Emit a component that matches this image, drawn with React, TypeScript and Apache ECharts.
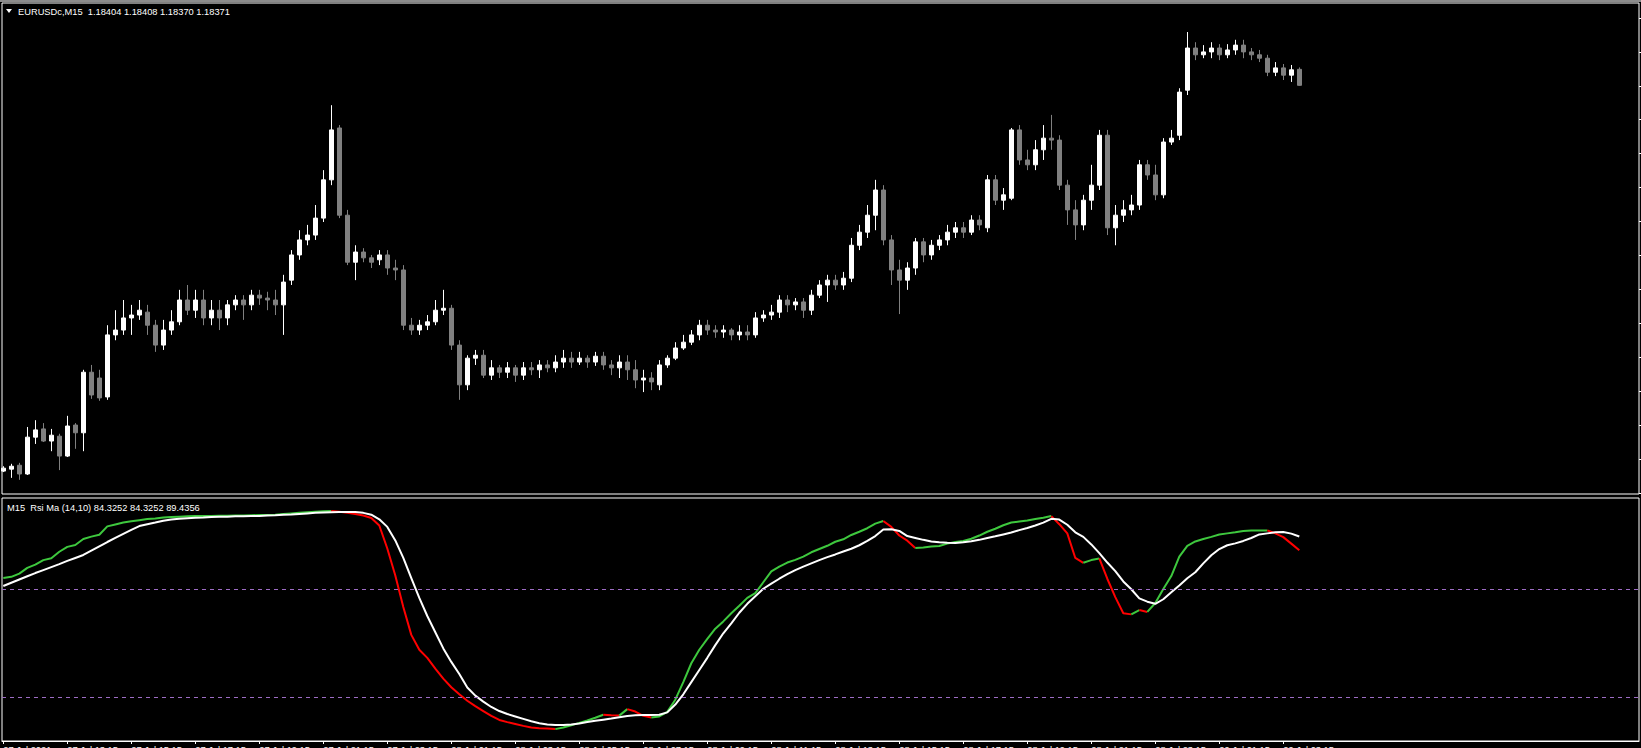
import React, { useEffect, useRef } from "react";
import * as echarts from "echarts";

// EURUSDc M15 candles
const opens = [
1.17575,1.17579,1.17587,1.17569,1.17645,1.17662,1.17637,1.17647,1.17606,1.17670,
1.17654,1.17779,1.17767,1.17728,1.17856,1.17866,1.17891,1.17897,1.17903,1.17876,
1.17835,1.17866,1.17883,1.17928,1.17907,1.17928,1.17891,1.17907,1.17891,1.17918,
1.17928,1.17918,1.17938,1.17932,1.17928,1.17918,1.17969,1.18021,1.18052,1.18062,
1.18097,1.18176,1.18283,1.18103,1.18006,1.18027,1.18015,1.18011,1.18021,1.17994,
1.17990,1.17876,1.17866,1.17876,1.17883,1.17907,1.17911,1.17835,1.17753,1.17808,
1.17814,1.17773,1.17788,1.17779,1.17788,1.17773,1.17788,1.17784,1.17794,1.17788,
1.17800,1.17808,1.17800,1.17808,1.17800,1.17812,1.17794,1.17788,1.17800,1.17784,
1.17763,1.17767,1.17753,1.17794,1.17808,1.17829,1.17841,1.17856,1.17876,1.17866,
1.17862,1.17866,1.17856,1.17862,1.17856,1.17891,1.17897,1.17903,1.17928,1.17918,
1.17924,1.17907,1.17938,1.17959,1.17969,1.17959,1.17973,1.18041,1.18068,1.18103,
1.18155,1.18052,1.17990,1.17969,1.17994,1.18048,1.18021,1.18041,1.18052,1.18068,
1.18077,1.18068,1.18093,1.18077,1.18176,1.18134,1.18138,1.18279,1.18217,1.18207,
1.18238,1.18262,1.18258,1.18165,1.18114,1.18083,1.18134,1.18165,1.18268,1.18077,
1.18103,1.18114,1.18124,1.18207,1.18186,1.18145,1.18254,1.18268,1.18361,1.18448,
1.18434,1.18440,1.18448,1.18434,1.18444,1.18454,1.18440,1.18434,1.18427,1.18398,
1.18407,1.18392,1.18404];
const highs = [
1.17585,1.17590,1.17592,1.17666,1.17680,1.17674,1.17662,1.17652,1.17689,1.17674,
1.17784,1.17794,1.17784,1.17876,1.17907,1.17928,1.17918,1.17928,1.17918,1.17887,
1.17887,1.17907,1.17949,1.17959,1.17949,1.17949,1.17928,1.17928,1.17928,1.17938,
1.17938,1.17949,1.17949,1.17945,1.17949,1.17980,1.18031,1.18072,1.18083,1.18124,
1.18196,1.18330,1.18289,1.18114,1.18041,1.18035,1.18021,1.18031,1.18031,1.18011,
1.18000,1.17891,1.17887,1.17897,1.17928,1.17949,1.17918,1.17845,1.17814,1.17825,
1.17825,1.17804,1.17794,1.17800,1.17794,1.17800,1.17800,1.17804,1.17804,1.17814,
1.17825,1.17821,1.17821,1.17814,1.17821,1.17821,1.17804,1.17814,1.17814,1.17804,
1.17784,1.17779,1.17804,1.17814,1.17841,1.17856,1.17866,1.17887,1.17887,1.17876,
1.17876,1.17870,1.17876,1.17876,1.17903,1.17907,1.17918,1.17938,1.17938,1.17932,
1.17932,1.17949,1.17969,1.17980,1.17980,1.17986,1.18056,1.18083,1.18124,1.18176,
1.18165,1.18062,1.18011,1.18006,1.18056,1.18056,1.18052,1.18062,1.18083,1.18089,
1.18089,1.18103,1.18103,1.18186,1.18186,1.18159,1.18283,1.18289,1.18238,1.18258,
1.18289,1.18310,1.18268,1.18176,1.18134,1.18145,1.18207,1.18279,1.18279,1.18124,
1.18134,1.18145,1.18217,1.18217,1.18207,1.18262,1.18279,1.18365,1.18481,1.18460,
1.18454,1.18460,1.18456,1.18456,1.18465,1.18465,1.18448,1.18444,1.18434,1.18419,
1.18415,1.18413,1.18408];
const lows = [
1.17573,1.17561,1.17557,1.17567,1.17631,1.17635,1.17616,1.17577,1.17604,1.17621,
1.17616,1.17724,1.17720,1.17722,1.17845,1.17856,1.17856,1.17887,1.17856,1.17821,
1.17825,1.17856,1.17876,1.17897,1.17891,1.17876,1.17876,1.17866,1.17876,1.17907,
1.17887,1.17907,1.17918,1.17907,1.17897,1.17856,1.17959,1.18011,1.18041,1.18052,
1.18089,1.18165,1.18097,1.18000,1.17969,1.18006,1.17994,1.18000,1.17980,1.17969,
1.17866,1.17856,1.17856,1.17866,1.17876,1.17897,1.17825,1.17722,1.17742,1.17794,
1.17767,1.17763,1.17767,1.17767,1.17759,1.17763,1.17773,1.17767,1.17779,1.17779,
1.17788,1.17788,1.17794,1.17788,1.17792,1.17784,1.17773,1.17767,1.17763,1.17746,
1.17738,1.17742,1.17742,1.17788,1.17804,1.17825,1.17835,1.17845,1.17856,1.17850,
1.17850,1.17845,1.17845,1.17845,1.17850,1.17883,1.17887,1.17891,1.17903,1.17907,
1.17891,1.17897,1.17932,1.17924,1.17949,1.17949,1.17965,1.18031,1.18056,1.18072,
1.18041,1.17959,1.17899,1.17949,1.17980,1.18006,1.18011,1.18031,1.18041,1.18056,
1.18056,1.18062,1.18072,1.18068,1.18124,1.18114,1.18134,1.18207,1.18196,1.18196,
1.18217,1.18238,1.18155,1.18083,1.18052,1.18072,1.18114,1.18155,1.18062,1.18041,
1.18089,1.18103,1.18114,1.18176,1.18134,1.18138,1.18248,1.18258,1.18351,1.18423,
1.18427,1.18427,1.18423,1.18427,1.18434,1.18427,1.18423,1.18419,1.18390,1.18390,
1.18382,1.18378,1.18370];
const closes = [
1.17581,1.17585,1.17569,1.17645,1.17660,1.17637,1.17649,1.17606,1.17668,1.17654,
1.17779,1.17732,1.17726,1.17856,1.17866,1.17891,1.17897,1.17907,1.17876,1.17835,
1.17866,1.17883,1.17928,1.17907,1.17928,1.17891,1.17907,1.17891,1.17918,1.17928,
1.17918,1.17938,1.17932,1.17928,1.17918,1.17965,1.18021,1.18052,1.18062,1.18097,
1.18176,1.18279,1.18103,1.18006,1.18027,1.18015,1.18006,1.18021,1.17994,1.17990,
1.17876,1.17866,1.17876,1.17883,1.17907,1.17911,1.17835,1.17753,1.17808,1.17814,
1.17773,1.17788,1.17779,1.17788,1.17773,1.17788,1.17784,1.17794,1.17788,1.17800,
1.17808,1.17800,1.17808,1.17800,1.17812,1.17794,1.17788,1.17800,1.17784,1.17763,
1.17767,1.17759,1.17794,1.17808,1.17829,1.17841,1.17856,1.17876,1.17866,1.17862,
1.17866,1.17856,1.17862,1.17856,1.17891,1.17897,1.17903,1.17928,1.17918,1.17924,
1.17907,1.17938,1.17959,1.17969,1.17959,1.17973,1.18041,1.18068,1.18103,1.18155,
1.18052,1.17990,1.17969,1.17994,1.18048,1.18021,1.18041,1.18052,1.18068,1.18077,
1.18068,1.18093,1.18083,1.18176,1.18134,1.18145,1.18279,1.18217,1.18207,1.18238,
1.18262,1.18258,1.18165,1.18114,1.18083,1.18134,1.18165,1.18268,1.18077,1.18103,
1.18114,1.18124,1.18207,1.18186,1.18145,1.18254,1.18262,1.18357,1.18448,1.18434,
1.18440,1.18448,1.18434,1.18444,1.18454,1.18440,1.18434,1.18427,1.18398,1.18407,
1.18392,1.18403,1.18371];

// Rsi Ma (14,10): RSI line and its moving average
const rsiValues = [
74.1,74.5,75.7,77.8,79.0,80.7,81.4,83.8,85.6,86.3,
88.5,89.4,90.1,93.2,93.9,94.6,95.1,95.5,95.9,96.1,
96.5,96.7,96.8,96.9,97.0,97.0,97.0,97.1,97.1,97.2,
97.2,97.3,97.4,97.4,97.5,97.8,98.0,98.2,98.4,98.6,
98.8,98.9,98.6,98.2,97.8,97.2,96.3,93.5,85.0,75.0,
63.3,53.0,47.5,44.5,40.5,36.8,33.6,31.0,28.6,26.6,
24.8,23.0,21.5,20.7,20.0,19.3,18.7,18.4,18.3,18.1,
18.7,19.5,20.4,21.3,22.3,23.4,23.2,23.1,25.5,24.6,
23.0,22.4,22.8,24.5,29.0,35.5,42.5,47.5,51.5,55.3,
58.0,61.0,63.8,66.7,68.5,72.5,76.5,78.3,79.8,80.8,
82.0,83.6,84.8,86.0,87.5,88.4,90.0,91.2,92.5,94.2,
95.2,93.0,89.8,87.9,85.2,85.4,85.7,85.9,86.8,87.4,
87.8,88.6,89.8,91.2,92.3,93.6,94.6,95.0,95.4,95.9,
96.4,97.0,94.0,90.6,81.5,79.7,80.7,81.3,73.8,67.0,
61.0,60.6,62.2,61.5,64.8,70.0,74.8,82.0,86.0,87.6,
88.5,89.3,90.2,90.6,91.0,91.5,91.7,91.7,91.7,90.6,
89.2,86.8,84.3252];
const maValues = [
71.1,72.3,73.5,74.7,75.9,77.0,78.1,79.2,80.4,81.5,
82.6,84.2,85.8,87.4,88.9,90.4,91.9,93.3,94.0,94.6,
95.3,95.7,96.0,96.2,96.4,96.5,96.7,96.8,96.8,96.9,
96.9,97.0,97.0,97.2,97.3,97.5,97.6,97.8,98.0,98.2,
98.3,98.4,98.5,98.5,98.5,98.2,97.5,95.8,93.0,88.0,
81.5,74.0,66.7,60.0,54.0,48.0,43.0,38.5,33.5,30.5,
28.3,26.3,24.8,23.7,22.8,21.9,21.0,20.3,19.8,19.6,
19.6,19.8,20.2,20.7,21.2,21.6,22.0,22.5,23.0,23.2,
23.3,23.3,23.4,24.3,27.2,31.0,35.5,40.0,44.5,49.2,
53.6,57.3,61.2,64.5,67.3,70.1,72.0,73.8,75.5,77.0,
78.3,79.5,80.7,81.8,82.8,83.9,84.9,86.2,87.8,89.6,
92.0,92.1,91.5,89.6,88.9,88.2,87.6,87.3,87.1,87.0,
87.3,87.7,88.2,88.9,89.5,90.2,90.9,91.8,92.6,93.5,
94.6,96.0,95.7,93.8,91.0,89.3,86.5,83.3,79.8,76.6,
72.8,69.9,66.5,65.3,64.5,66.2,68.8,71.3,74.0,76.2,
79.5,82.5,84.8,86.2,86.9,87.8,88.9,90.2,90.6,91.0,
91.1,90.5,89.4356];
const rsiLevels = [70, 30];

// time scale labels, one every 8 bars
const timeLabels = ["27 Jul 2021","27 Jul 13:15","27 Jul 15:15","27 Jul 17:15","27 Jul 19:15","27 Jul 21:15","27 Jul 23:15","28 Jul 01:15","28 Jul 03:15","28 Jul 05:15","28 Jul 07:15","28 Jul 09:15","28 Jul 11:15","28 Jul 13:15","28 Jul 15:15","28 Jul 17:15","28 Jul 19:15","28 Jul 21:15","28 Jul 23:15","29 Jul 01:15","29 Jul 03:15"];
const priceTicks = [1.1753,1.1760,1.1767,1.1774,1.1781,1.1788,1.1795,1.1802,1.1809,1.1816,1.1823,1.1830,1.1837,1.1844,1.1851];

const PRICE_MIN = 1.175277;
const PRICE_MAX = 1.185409;
const RSI_MIN = 13.7;
const RSI_MAX = 103.7;
const XMIN = -0.1625;
const XMAX = 204.4625;
const FONT_FAMILY = "'Liberation Sans', Arial, sans-serif";

export default function App() {
  const ref = useRef<HTMLDivElement>(null);
  useEffect(() => {
    document.body.style.margin = "0";
    document.body.style.background = "#000";
    const chart = echarts.init(ref.current!, null, { renderer: "svg" });
    const N = closes.length;
    const ohlc = closes.map((c, i) => [i, opens[i], c, lows[i], highs[i]]);

    // RSI line coloured by direction: green rising, red falling
    const runs: { up: boolean; from: number; to: number }[] = [];
    for (let i = 1; i < N; i++) {
      const up = rsiValues[i] >= rsiValues[i - 1];
      const last = runs[runs.length - 1];
      if (last && last.up === up) last.to = i;
      else runs.push({ up, from: i - 1, to: i });
    }
    const rsiSeries = runs.map((r) => ({
      type: "line",
      xAxisIndex: 1,
      yAxisIndex: 1,
      data: rsiValues.slice(r.from, r.to + 1).map((v, j) => [r.from + j, v]),
      showSymbol: false,
      symbol: "none",
      lineStyle: { color: r.up ? "#3ec83e" : "#ff0000", width: 2 },
      silent: true,
    }));

    chart.setOption({
      animation: false,
      backgroundColor: "#000",
      grid: [
        { left: 2, top: 3, width: 1637, height: 491, show: true, borderColor: "#fff", borderWidth: 1, containLabel: false, outerBoundsMode: "none" },
        { left: 2, top: 498, width: 1637, height: 243, show: true, borderColor: "#fff", borderWidth: 1, containLabel: false, outerBoundsMode: "none" },
      ],
      xAxis: [
        { type: "value", gridIndex: 0, min: XMIN, max: XMAX, axisLine: { show: false, onZero: false }, axisTick: { show: false }, axisLabel: { show: false }, splitLine: { show: false } },
        {
          type: "value", gridIndex: 1, min: XMIN, max: XMAX,
          axisLine: { show: true, onZero: false, lineStyle: { color: "#fff" } },
          axisTick: { show: true, length: 3, lineStyle: { color: "#fff" }, customValues: timeLabels.map((_, i) => i * 8) },
          axisLabel: { show: true, color: "#fff", fontSize: 9.3, fontFamily: FONT_FAMILY, align: "left", margin: 4, customValues: timeLabels.map((_, i) => i * 8), formatter: (v: number) => timeLabels[Math.round(v / 8)] ?? "" },
          splitLine: { show: false },
        },
      ],
      yAxis: [
        {
          type: "value", gridIndex: 0, position: "right", min: PRICE_MIN, max: PRICE_MAX,
          axisLine: { show: false, onZero: false },
          axisTick: { show: true, length: 3, lineStyle: { color: "#fff" }, customValues: priceTicks },
          axisLabel: { show: false }, splitLine: { show: false },
        },
        { type: "value", gridIndex: 1, position: "right", min: RSI_MIN, max: RSI_MAX, axisLine: { show: false, onZero: false }, axisTick: { show: false }, axisLabel: { show: false }, splitLine: { show: false } },
      ],
      series: [
        {
          type: "candlestick", xAxisIndex: 0, yAxisIndex: 0, data: ohlc, encode: { x: 0, y: [1, 2, 3, 4] }, barWidth: 4,
          itemStyle: { color: "#ffffff", color0: "#808080", borderColor: "#ffffff", borderColor0: "#808080", borderWidth: 1 },
        },
        {
          type: "line", xAxisIndex: 1, yAxisIndex: 1, data: [], showSymbol: false, symbol: "none",
          markLine: { silent: true, symbol: "none", label: { show: false }, lineStyle: { color: "#9d6cc4", type: [4, 4], width: 1 }, data: rsiLevels.map((v) => ({ yAxis: v })) },
        },
        ...rsiSeries,
        { type: "line", xAxisIndex: 1, yAxisIndex: 1, data: maValues.map((v, i) => [i, v]), showSymbol: false, symbol: "none", lineStyle: { color: "#ffffff", width: 2 }, silent: true },
      ],
      graphic: [
        { type: "rect", shape: { x: 0, y: 0, width: 1641, height: 2 }, style: { fill: "#8c8c8c" } },
        { type: "polygon", shape: { points: [[6, 9], [12, 9], [9, 13]] }, style: { fill: "#fff" } },
        { type: "text", x: 18, y: 12, style: { text: "EURUSDc,M15  1.18404 1.18408 1.18370 1.18371", fill: "#fff", font: `9.3px ${FONT_FAMILY}`, textVerticalAlign: "middle" } },
        { type: "text", x: 7, y: 508, style: { text: "M15  Rsi Ma (14,10) 84.3252 84.3252 89.4356", fill: "#fff", font: `9.3px ${FONT_FAMILY}`, textVerticalAlign: "middle" } },
      ],
    });
    return () => chart.dispose();
  }, []);
  return <div ref={ref} style={{ width: 1641, height: 748, background: "#000" }} />;
}
